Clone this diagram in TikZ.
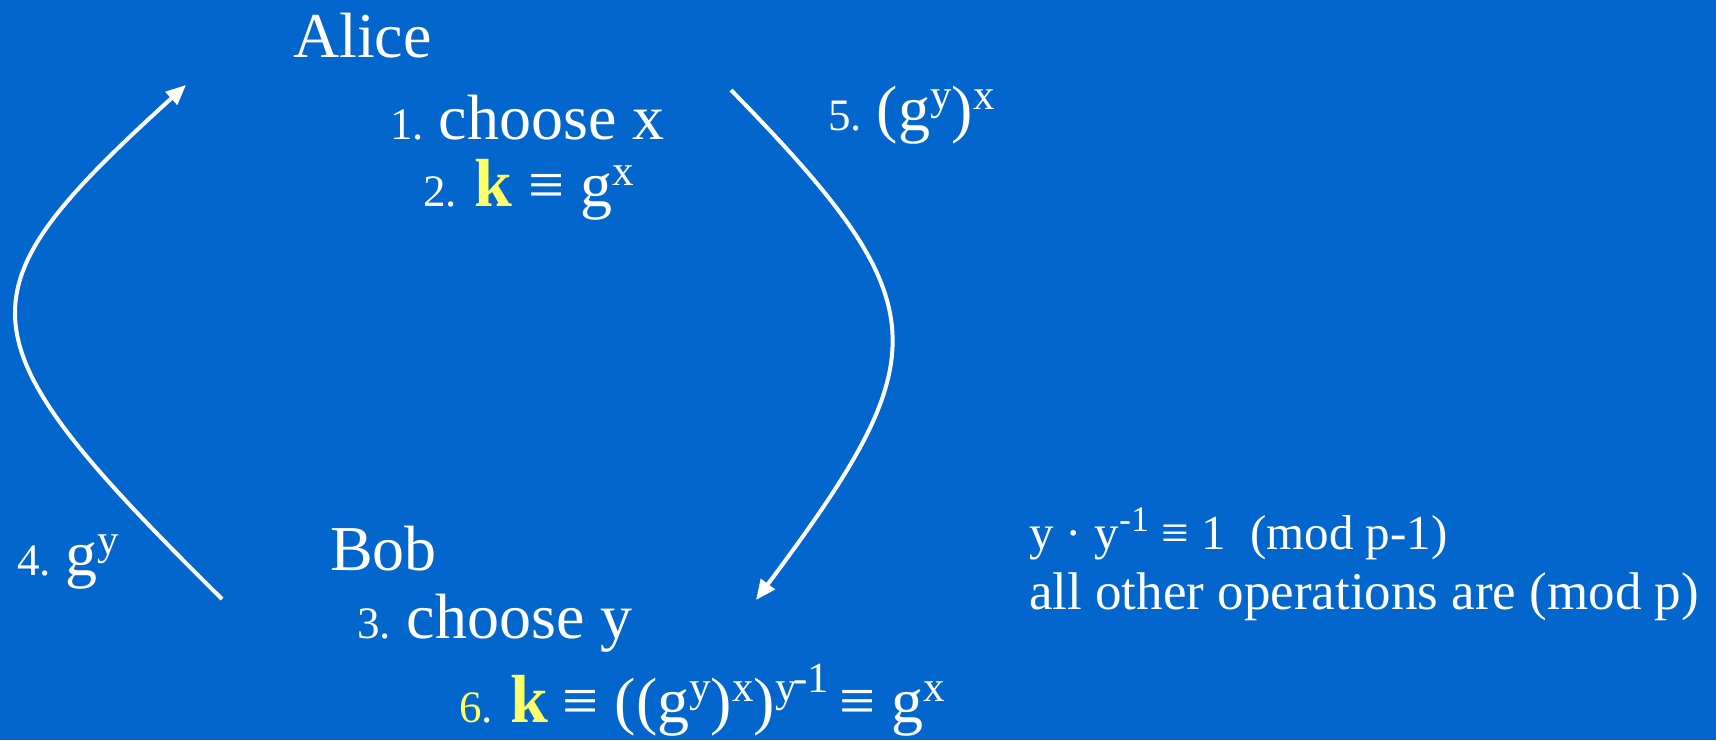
\documentclass[tikz,border=0pt]{standalone}
\usepackage{fontspec}
\setmainfont{Liberation Serif}
\usetikzlibrary{arrows.meta}
\definecolor{bgblue}{RGB}{3,102,204}
\definecolor{kyel}{RGB}{255,255,102}
\newcommand\fbig{\fontsize{64}{64}\selectfont}
\newcommand\fnum{\fontsize{45}{45}\selectfont}
\newcommand\fsup{\fontsize{43}{43}\selectfont}
\newcommand\fnote{\fontsize{53}{53}\selectfont}
\newcommand\fnoteA{\fontsize{49}{49}\selectfont}
\newcommand\fsupn{\fontsize{36}{36}\selectfont}
\newcommand\kk{{\fontsize{68}{68}\selectfont\bfseries\color{kyel}k}}
\newcommand\sps[1]{\raisebox{21pt}{\fsup #1}}
\begin{document}
\begin{tikzpicture}[x=1pt,y=-1pt,
  txt/.style={anchor=base west, inner sep=0pt, text=white},
  flow/.style={draw=white, line width=4pt, -{Triangle[length=20pt,width=17pt]}}]
\fill[bgblue] (0,0) rectangle (1716,740);
\useasboundingbox (0,0) rectangle (1716,740);
% texts
\node[txt] (alice) at (293,57) {\fbig Alice};
\node[txt] (s1) at (390,139) {\fnum 1. \fbig choose x};
\node[txt] (s2) at (423,206) {\fnum 2.\hspace{18pt}\kk\hspace{16pt}\fbig ≡ g\sps{x}};
\node[txt] (s5) at (828,130) {\fnum 5. \fbig (g\sps{y})\sps{x}};
\node[txt] (s4) at (17,575) {\fnum 4. \fbig g\sps{y}};
\node[txt] (bob) at (330,570) {\fbig Bob};
\node[txt] (s3) at (357,638) {\fnum 3.\hspace{16pt}\fbig choose y};
\node[txt] (s6) at (459,722) {{\fnum\color{kyel}6}\fnum.\hspace{18pt}\kk\hspace{14pt}\fbig ≡ ((g\sps{y})\sps{x})\sps{y}\raisebox{30pt}{\fsup\kern-3pt -1}\hspace{10pt}≡ g\sps{x}};
\node[txt] (n1) at (1029,549) {\fnoteA y · y\raisebox{18pt}{\fsupn -1} ≡ 1\ \ (mod p-1)};
\node[txt] (n2) at (1029,609) {\fnote all other operations are (mod p)};
% arrow endpoints
\coordinate (bobout) at (222,599);
\coordinate (alicein) at (186,85);
\coordinate (aliceout) at (731,90);
\coordinate (bobin) at (756,600);
\draw[flow] (bobout) .. controls (-45,335) and (-45,295) .. (alicein);
\draw[flow] (aliceout) .. controls (940,304) and (940,354) .. (bobin);
\end{tikzpicture}
\end{document}
